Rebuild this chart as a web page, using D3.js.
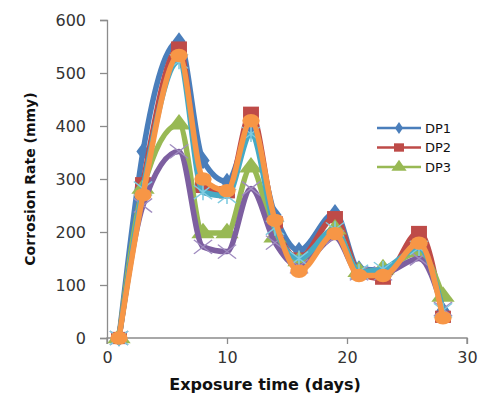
<!DOCTYPE html>
<html>
<head>
<meta charset="utf-8">
<script src="https://cdn.jsdelivr.net/npm/d3@7"></script>
<style>
  body { margin: 0; background: #fff; }
  text { font-family: "DejaVu Sans", sans-serif; }
</style>
</head>
<body>
<svg id="chart" width="492" height="396"></svg>
<script>
// exposure days and corrosion rates (mmy)
const days = [1, 3, 6, 8, 10, 12, 14, 16, 19, 21, 23, 26, 28];
const dp1 = [0, 352, 560, 335, 295, 392, 232, 165, 236, 130, 128, 172, 52];
const dp2 = [0, 292, 548, 285, 275, 425, 218, 150, 228, 122, 112, 200, 40];
const dp3 = [0, 282, 403, 198, 198, 322, 190, 145, 205, 125, 130, 162, 78];
const dp4 = [0, 250, 352, 172, 163, 282, 180, 135, 190, 122, 122, 150, 55];
const dp5 = [0, 282, 522, 275, 268, 385, 208, 150, 205, 125, 130, 170, 52];
const dp6 = [0, 270, 533, 300, 278, 410, 222, 126, 197, 118, 118, 179, 38];
const seriesNames = ['DP1', 'DP2', 'DP3', 'DP4', 'DP5', 'DP6'];
const legendNames = ['DP1', 'DP2', 'DP3'];
const xTicks = [0, 10, 20, 30];
const yTicks = [0, 100, 200, 300, 400, 500, 600];

const series = [dp1, dp2, dp3, dp4, dp5, dp6].map((vals, i) => ({
  name: seriesNames[i],
  points: vals.map((v, j) => ({ x: days[j], y: v })),
}));

const colors = ['#4a7ebb', '#be4b48', '#98b954', '#7d5fa0', '#46aac5', '#f79646'];
const markerColors = ['#4a7ebb', '#be4b48', '#98b954', '#a08cc0', '#7fcbe0', '#f79646'];

const svg = d3.select('#chart');
const margin = { left: 107, right: 25, top: 20, bottom: 58 };
const width = 492 - margin.left - margin.right;
const height = 396 - margin.top - margin.bottom;

const x = d3.scaleLinear().domain([0, 30]).range([0, width]);
const y = d3.scaleLinear().domain([0, 600]).range([height, 0]);

const g = svg.append('g')
  .attr('transform', `translate(${margin.left},${margin.top})`);

// axes
const xAxis = g.append('g')
  .attr('transform', `translate(0,${height})`)
  .call(d3.axisBottom(x).tickValues(xTicks).tickSize(6).tickPadding(8));
const yAxis = g.append('g')
  .call(d3.axisLeft(y).tickValues(yTicks).tickSize(7).tickPadding(14));
[xAxis, yAxis].forEach(ax => {
  ax.selectAll('.domain, line').attr('stroke', '#8c8c8c').attr('stroke-width', 1.3);
  ax.selectAll('text')
    .style('font-size', '16px')
    .attr('fill', '#333');
});
xAxis.select('.domain').attr('d', `M0,6V0H${width}V6`);

// smoothed lines + markers, drawn series by series like the spreadsheet does
const line = d3.line()
  .x(d => x(d.x))
  .y(d => y(d.y))
  .curve(d3.curveMonotoneX);

const markerPath = [
  d3.symbol(d3.symbolDiamond, 90)(),
  d3.symbol(d3.symbolSquare, 150)(),
  d3.symbol(d3.symbolTriangle, 140)(),
  'M-7,-7L7,7M-7,7L7,-7',
  'M-7,-7L7,7M-7,7L7,-7M0,-8L0,8',
  d3.symbol(d3.symbolCircle, 140)(),
];

series.forEach((s, i) => {
  const sg = g.append('g').attr('class', 'series');
  sg.append('path')
    .datum(s.points)
    .attr('d', line)
    .attr('fill', 'none')
    .attr('stroke', colors[i])
    .attr('stroke-width', 5.5)
    .attr('stroke-linejoin', 'round');

  const stroked = i === 3 || i === 4;
  sg.selectAll('.mark')
    .data(s.points)
    .enter()
    .append('path')
    .attr('class', 'mark')
    .attr('d', markerPath[i])
    .attr('transform', d => `translate(${x(d.x)},${y(d.y)}) scale(1.3,1)`)
    .attr('fill', stroked ? 'none' : markerColors[i])
    .attr('stroke', stroked ? markerColors[i] : 'none')
    .attr('stroke-width', 1.2);
});

// axis titles
svg.append('text')
  .attr('x', 265)
  .attr('y', 390)
  .attr('text-anchor', 'middle')
  .style('font-size', '16px')
  .style('font-weight', 'bold')
  .attr('fill', '#111')
  .text('Exposure time (days)');

svg.append('text')
  .attr('transform', 'translate(35,179) rotate(-90)')
  .attr('text-anchor', 'middle')
  .style('font-size', '14px')
  .style('font-weight', 'bold')
  .attr('fill', '#111')
  .text('Corrosion Rate (mmy)');

// legend (only the first three entries show)
const legend = svg.append('g').attr('transform', 'translate(377,128)');
legendNames.forEach((name, i) => {
  const row = legend.append('g').attr('transform', `translate(0,${i * 19.5})`);
  row.append('line')
    .attr('x1', 0).attr('x2', 44)
    .attr('stroke', colors[i])
    .attr('stroke-width', 2.5);
  row.append('path')
    .attr('d', d3.symbol([d3.symbolDiamond, d3.symbolSquare, d3.symbolTriangle][i], [40, 70, 70][i])())
    .attr('transform', 'translate(22,0) scale(1.2,1)')
    .attr('fill', colors[i]);
  row.append('text')
    .attr('x', 48)
    .attr('dy', '0.35em')
    .style('font-size', '13px')
    .attr('fill', '#111')
    .text(name);
});
</script>
</body>
</html>
